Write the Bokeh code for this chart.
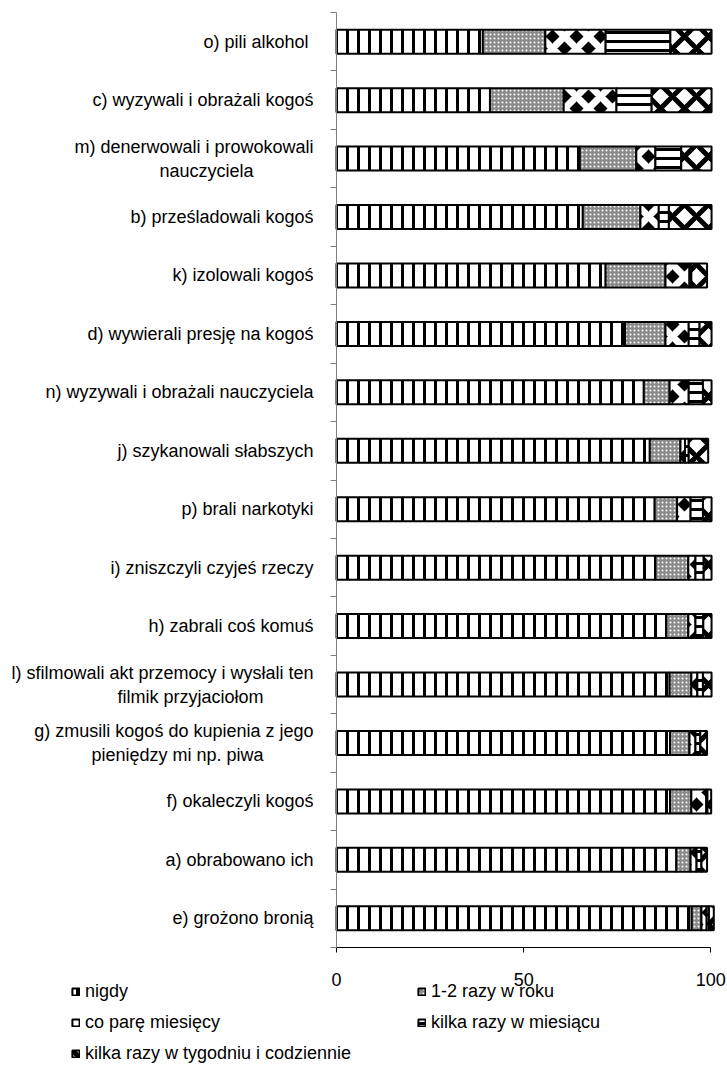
from bokeh.plotting import figure
from bokeh.models import FixedTicker, Legend, LegendItem, ColumnDataSource, Range1d
from bokeh.embed import file_html
from bokeh.resources import INLINE

categories = [
    "o) pili alkohol ",
    "c) wyzywali i obrażali kogoś",
    "m) denerwowali i prowokowali\nnauczyciela" + " " * 12,
    "b) prześladowali kogoś",
    "k) izolowali kogoś",
    "d) wywierali presję na kogoś",
    "n) wyzywali i obrażali nauczyciela",
    "j) szykanowali słabszych",
    "p) brali narkotyki",
    "i) zniszczyli czyjeś rzeczy",
    "h) zabrali coś komuś",
    "l) sfilmowali akt przemocy i wysłali ten\nfilmik przyjaciołom" + " " * 10,
    "g) zmusili kogoś do kupienia z jego\npieniędzy mi np. piwa" + " " * 10,
    "f) okaleczyli kogoś",
    "a) obrabowano ich",
    "e) grożono bronią",
]
nigdy      = [39.1, 41.0, 65.0, 65.8, 71.9, 77.1, 82.1, 83.7, 85.0, 85.2, 88.1, 89.0, 89.1, 89.1, 90.8, 94.9]
raz_w_roku = [16.7, 19.7, 15.1, 15.4, 16.0, 10.8, 6.9, 8.2, 6.0, 8.8, 5.9, 5.8, 5.2, 5.7, 3.8, 2.6]
co_pare    = [16.1, 14.1, 5.1, 4.9, 6.4, 6.2, 5.1, 1.2, 3.6, 1.9, 1.9, 1.6, 1.6, 4.0, 1.6, 1.4]
kilka_mies = [17.3, 9.4, 6.9, 2.7, 0.5, 2.9, 3.8, 1.0, 3.3, 2.2, 2.1, 1.5, 1.3, 0.3, 1.3, 0.6]
kilka_tyg  = [11.0, 16.0, 8.1, 11.4, 4.2, 3.2, 2.3, 5.2, 2.3, 2.1, 2.2, 2.3, 1.8, 1.0, 1.5, 1.3]
series_names = ["nigdy", "1-2 razy w roku", "co parę miesięcy",
                "kilka razy w miesiącu", "kilka razy w tygodniu i codziennie"]
x_ticks = [0, 50, 100]

FONT = "Liberation Sans"
FS = "18px"
n = len(categories)
ypos = [n - i for i in range(n)]

# --- layout (pixels) ---
W, H = 727, 1065
X0_PX, X100_PX = 336.0, 710.3       # x of value 0 and 100
YTOP_PX, YBOT_PX = 12.0, 947.0      # top / bottom of the category area
xs = (X100_PX - X0_PX) / 100.0
ys = (YBOT_PX - YTOP_PX) / n
x_range = Range1d(-X0_PX / xs, (W - X0_PX) / xs)
y_range = Range1d(0.5 - (H - YBOT_PX) / ys, n + 0.5 + YTOP_PX / ys)

src = ColumnDataSource(dict(y=ypos, s0=nigdy, s1=raz_w_roku,
                            s2=co_pare, s3=kilka_mies, s4=kilka_tyg))

p = figure(width=W, height=H, output_backend="svg", toolbar_location=None,
           x_range=x_range, y_range=y_range,
           min_border_left=0, min_border_right=0, min_border_top=0,
           min_border_bottom=0)
p.outline_line_color = None
p.xgrid.visible = False
p.ygrid.visible = False
p.background_fill_color = "white"
p.border_fill_color = "white"

renderers = p.hbar_stack(
    ["s0", "s1", "s2", "s3", "s4"], y="y", height=0.41, source=src,
    fill_color=["white", "#8a8a8a", "black", "white", "white"],
    hatch_pattern=["vertical_line", "dot", "diagonal_cross", "horizontal_line", "diagonal_cross"],
    hatch_color=["black", "white", "white", "black", "black"],
    hatch_scale=[11, 4, 24, 9, 24],
    hatch_weight=[3, 1, 7, 3, 5],
    line_color="black", line_width=2,
)

# y axis: labels at category centres, tick marks between categories
ya = p.yaxis[0]
ya.fixed_location = 0
ya.bounds = (0.5, n + 0.5)
ya.ticker = FixedTicker(ticks=ypos, minor_ticks=[k + 0.5 for k in range(n + 1)])
ya.major_label_overrides = {y: c for y, c in zip(ypos, categories)}
ya.major_tick_line_color = None
ya.major_tick_out = 0
ya.major_tick_in = 0
ya.minor_tick_out = 6
ya.minor_tick_in = 0
ya.minor_tick_line_color = "#808080"
ya.axis_line_color = "#808080"
ya.major_label_standoff = 17
ya.major_label_text_font = FONT
ya.major_label_text_font_size = FS
ya.major_label_text_color = "black"

xa = p.xaxis[0]
xa.fixed_location = 0.5
xa.bounds = (0, 100)
xa.ticker = FixedTicker(ticks=x_ticks, minor_ticks=[])
xa.major_tick_out = 5
xa.major_tick_in = 0
xa.axis_line_color = "black"
xa.major_tick_line_color = "black"
xa.major_label_standoff = 20
xa.major_label_text_font = FONT
xa.major_label_text_font_size = FS
xa.major_label_text_color = "black"


def make_legend(idx, loc):
    leg = Legend(items=[LegendItem(label=series_names[i], renderers=[renderers[i]]) for i in idx],
                 location=loc, orientation="vertical")
    leg.padding = 0
    leg.margin = 0
    leg.spacing = 10
    leg.label_height = 14
    leg.glyph_height = 9
    leg.glyph_width = 9
    leg.label_standoff = 5
    leg.label_text_font = FONT
    leg.label_text_font_size = FS
    leg.label_text_color = "black"
    leg.border_line_alpha = 0
    leg.background_fill_alpha = 0
    return leg


p.add_layout(make_legend([0, 2, 4], (71, 1)))
p.add_layout(make_legend([1, 3], (417, 32)))

open("out.html", "w").write(file_html(p, INLINE))
